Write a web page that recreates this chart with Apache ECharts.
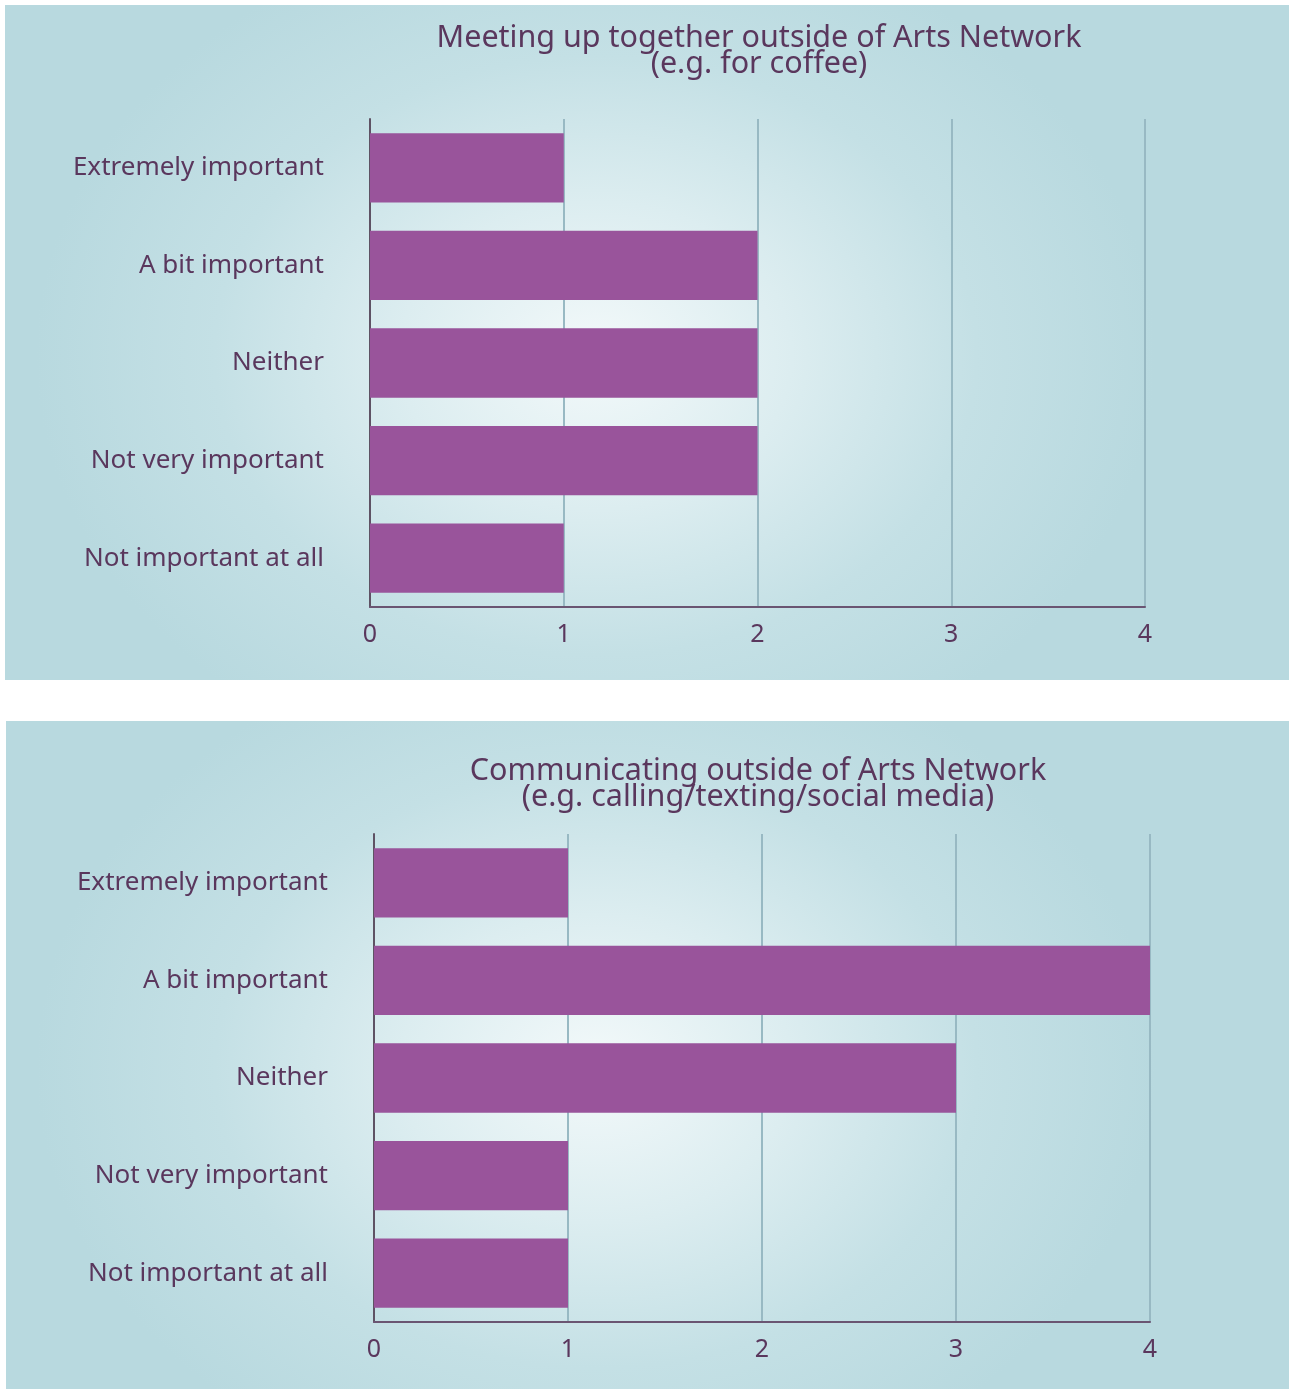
<!DOCTYPE html>
<html>
<head>
<meta charset="utf-8">
<script src="https://cdn.jsdelivr.net/npm/echarts@6/dist/echarts.min.js"></script>
<style>
  html, body { margin: 0; padding: 0; background: #ffffff; }
  body { width: 1289px; height: 1389px; position: relative; overflow: hidden; }
  .panel {
    position: absolute;
    background: radial-gradient(ellipse 560px 440px at 46% 52%, #f3f9fa 0%, #dcedf0 35%, #c4e0e5 68%, #b8d9df 100%);
  }
  #c1 { left: 5px; top: 5px; width: 1284px; height: 675px; }
  #c2 { left: 6px; top: 721px; width: 1283px; height: 668px; }
</style>
</head>
<body>
<div id="c1" class="panel"></div>
<div id="c2" class="panel"></div>
<script>
// Response categories, top to bottom
const categories = ['Extremely important', 'A bit important', 'Neither', 'Not very important', 'Not important at all'];

// Number of responses per category
const meetingCounts = [1, 2, 2, 2, 1];
const communicatingCounts = [1, 4, 3, 1, 1];

const meetingTitle = ['Meeting up together outside of Arts Network', '(e.g. for coffee)'];
const communicatingTitle = ['Communicating outside of Arts Network', '(e.g. calling/texting/social media)'];

const axisTicks = [0, 1, 2, 3, 4];

const FONT = '"Noto Sans", "DejaVu Sans", sans-serif';
const TEXT_COLOR = '#5a375d';
const BAR_COLOR = '#99549b';

function buildOption(titleLines, values, grid, titleX, titleY) {
  return {
    backgroundColor: 'transparent',
    animation: false,
    graphic: [{
      type: 'text',
      x: titleX,
      y: titleY,
      style: {
        text: titleLines.join('\n'),
        fill: TEXT_COLOR,
        font: '30.5px ' + FONT,
        align: 'center',
        verticalAlign: 'top',
        lineHeight: 26
      }
    }],
    grid: grid,
    xAxis: {
      type: 'value',
      min: axisTicks[0],
      max: axisTicks[axisTicks.length - 1],
      interval: 1,
      axisLine: { show: true, lineStyle: { color: '#6a5572', width: 2 } },
      axisTick: { show: false },
      splitLine: { show: true, lineStyle: { color: '#98b9c3', width: 2 } },
      axisLabel: { color: TEXT_COLOR, fontSize: 25, fontFamily: FONT, margin: 15 }
    },
    yAxis: {
      type: 'category',
      data: categories,
      inverse: true,
      axisLine: { show: true, lineStyle: { color: '#5e5264', width: 2 } },
      axisTick: { show: false },
      axisLabel: { color: TEXT_COLOR, fontSize: 26, fontFamily: FONT, margin: 46 }
    },
    series: [{
      type: 'bar',
      data: values,
      barCategoryGap: '29%',
      itemStyle: { color: BAR_COLOR }
    }]
  };
}

const chart1 = echarts.init(document.getElementById('c1'));
chart1.setOption(buildOption(meetingTitle, meetingCounts,
  { left: 365, top: 114, width: 775, height: 488 }, 754, 20));

const chart2 = echarts.init(document.getElementById('c2'));
chart2.setOption(buildOption(communicatingTitle, communicatingCounts,
  { left: 368, top: 113, width: 776, height: 488 }, 752, 37));
</script>
</body>
</html>
